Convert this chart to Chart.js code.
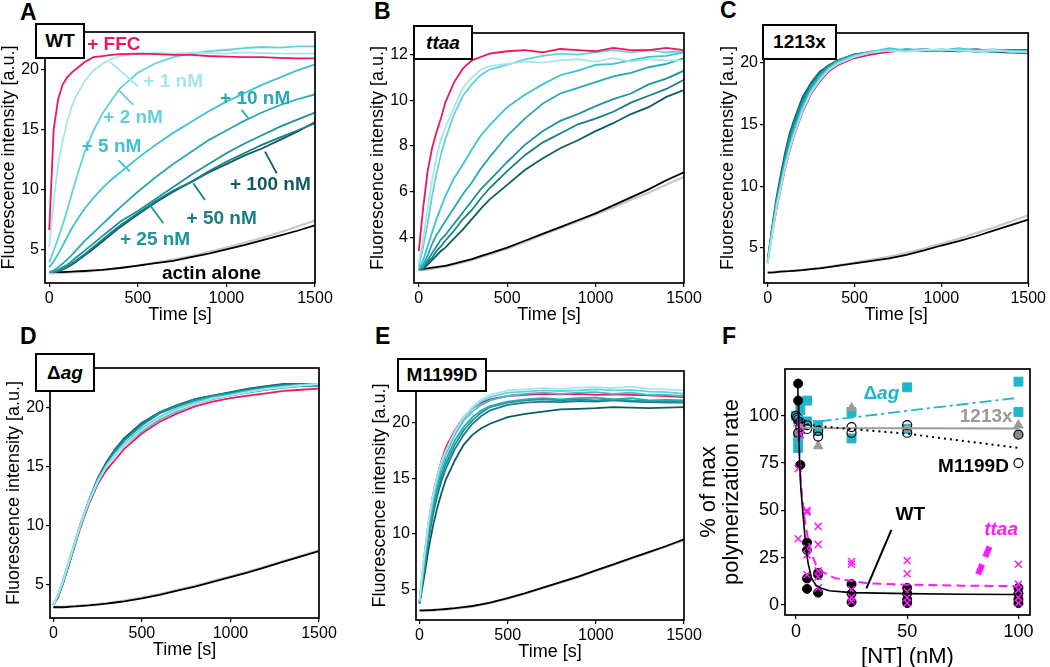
<!DOCTYPE html>
<html><head><meta charset="utf-8">
<script src="https://cdn.jsdelivr.net/npm/chart.js@4.4.1/dist/chart.umd.min.js"></script>
<style>
html,body{margin:0;padding:0;background:#fff;width:1050px;height:667px;overflow:hidden;font-family:"Liberation Sans",Arial,Helvetica,sans-serif;}
canvas{position:absolute;}
.letter{position:absolute;font-weight:bold;font-size:23px;color:#000;line-height:1;}
.box{position:absolute;border:2.5px solid #000;background:#fff;font-weight:bold;font-size:19px;display:flex;align-items:center;justify-content:center;box-sizing:border-box;color:#000;z-index:5;}
</style></head><body>
<div class="letter" style="left:20px;top:1px">A</div>
<div class="letter" style="left:374px;top:0px">B</div>
<div class="letter" style="left:720px;top:-1px">C</div>
<div class="letter" style="left:20px;top:325px">D</div>
<div class="letter" style="left:375px;top:325px">E</div>
<div class="letter" style="left:722px;top:325px">F</div>
<div class="box" style="left:35px;top:23px;width:50px;height:36px">WT</div>
<div class="box" style="left:413px;top:25px;width:60px;height:35px"><i>ttaa</i></div>
<div class="box" style="left:762px;top:24px;width:75px;height:36px">1213x</div>
<div class="box" style="left:35px;top:353px;width:60px;height:39px"><span>Δ</span><i>ag</i></div>
<div class="box" style="left:397px;top:358px;width:90px;height:34px">M1199D</div>
<canvas id="cA"></canvas><canvas id="cB"></canvas><canvas id="cC"></canvas>
<canvas id="cD"></canvas><canvas id="cE"></canvas><canvas id="cF"></canvas>
<script>
// ---------- data ----------
const TIME = [0,25,50,75,100,125,150,200,250,300,350,400,500,600,700,800,900,1000,1100,1200,1300,1400,1500];
const TIME_TICKS = [0,500,1000,1500];
const SERIES = ['+ FFC','+ 1 nM','+ 2 nM','+ 5 nM','+ 10 nM','+ 25 nM','+ 50 nM','+ 100 nM','actin alone','actin alone (rep.)'];

// Panel A (WT)
const A_ffc  = [6.6,15.0,17.5,18.7,19.3,19.7,20.0,20.6,21.0,21.1,21.2,21.25,21.3,21.25,21.2,21.2,21.1,21.05,21.0,21.0,20.95,20.9,20.9];
const A_n1   = [5.2,9.0,12.1,14.0,15.5,16.8,17.7,19.0,19.9,20.45,20.85,21.1,21.3,21.35,21.3,21.4,21.35,21.3,21.4,21.35,21.3,21.3,21.3];
const A_n2   = [3.9,4.9,5.9,7.0,8.2,9.5,10.8,13.1,14.9,16.3,17.4,18.4,19.7,20.5,21.0,21.3,21.5,21.6,21.75,21.85,21.8,21.9,21.9];
const A_n5   = [3.5,4.0,4.6,5.3,6.0,6.7,7.3,8.4,9.3,10.1,10.8,11.4,12.6,13.7,14.7,15.6,16.5,17.3,18.0,18.7,19.3,19.9,20.4];
const A_n10  = [3.1,3.25,3.5,3.8,4.15,4.5,4.9,5.7,6.4,7.1,7.8,8.5,9.8,11.0,12.1,13.1,14.1,14.9,15.7,16.4,17.0,17.5,17.9];
const A_n25  = [3.1,3.15,3.3,3.5,3.7,4.0,4.3,4.9,5.5,6.1,6.7,7.3,8.2,9.2,10.2,11.2,12.1,13.0,13.8,14.5,15.2,15.8,16.4];
const A_n50  = [3.1,3.1,3.2,3.35,3.55,3.8,4.05,4.6,5.2,5.8,6.4,7.0,8.0,9.0,9.9,10.6,11.5,12.3,13.0,13.7,14.3,14.9,15.5];
const A_n100 = [3.1,3.1,3.15,3.3,3.5,3.7,3.95,4.5,5.05,5.65,6.25,6.85,7.9,8.9,9.8,10.6,11.4,12.1,12.8,13.4,14.1,14.8,15.6];
const A_act  = [3.1,3.1,3.1,3.1,3.12,3.14,3.16,3.2,3.25,3.3,3.38,3.45,3.65,3.85,4.05,4.35,4.65,5.0,5.35,5.75,6.15,6.55,7.0];
const A_act2 = [3.0,3.0,3.02,3.04,3.06,3.08,3.1,3.15,3.2,3.28,3.36,3.45,3.65,3.9,4.15,4.45,4.8,5.15,5.55,5.95,6.4,6.9,7.4];

// Panel B (ttaa)
const B_ffc  = [3.4,5.3,6.9,7.9,8.6,9.2,9.9,10.8,11.4,11.75,11.9,12.05,12.15,12.2,12.1,12.25,12.2,12.15,12.3,12.2,12.2,12.3,12.2];
const B_n1   = [2.9,3.9,5.3,6.5,7.5,8.3,8.8,9.7,10.55,11.0,11.35,11.5,11.6,11.7,11.65,11.75,11.8,11.7,11.85,11.7,11.8,11.75,11.75];
const B_n2   = [2.7,3.6,4.6,5.8,6.8,7.6,8.3,9.4,10.2,10.7,11.1,11.35,11.55,11.8,11.95,12.05,12.0,12.1,12.2,12.1,12.2,12.1,12.15];
const B_n5   = [2.6,3.0,3.6,4.2,4.8,5.3,5.8,6.6,7.2,7.85,8.45,8.9,9.7,10.25,10.7,11.1,11.3,11.55,11.6,11.75,11.9,11.95,12.1];
const B_n10  = [2.6,2.8,3.2,3.7,4.1,4.4,4.7,5.3,5.9,6.4,7.0,7.5,8.45,9.2,9.85,10.3,10.55,10.8,11.05,11.2,11.45,11.6,11.85];
const B_n25  = [2.6,2.7,3.0,3.3,3.6,3.9,4.1,4.6,5.1,5.6,6.1,6.5,7.3,8.05,8.65,9.1,9.4,9.75,10.05,10.3,10.7,10.95,11.3];
const B_n50  = [2.6,2.65,2.9,3.1,3.4,3.6,3.85,4.3,4.8,5.2,5.7,6.15,6.9,7.6,8.15,8.55,8.95,9.2,9.5,9.9,10.2,10.5,10.9];
const B_n100 = [2.6,2.6,2.8,3.0,3.2,3.4,3.55,3.95,4.35,4.8,5.25,5.65,6.3,6.95,7.45,7.9,8.25,8.65,9.0,9.4,9.7,10.15,10.45];
const B_act  = [2.6,2.62,2.64,2.67,2.7,2.73,2.75,2.85,2.95,3.05,3.18,3.3,3.55,3.85,4.15,4.45,4.75,5.05,5.4,5.75,6.1,6.5,6.85];
const B_act2 = [2.55,2.57,2.6,2.63,2.66,2.69,2.72,2.8,2.9,3.0,3.12,3.25,3.5,3.8,4.1,4.4,4.7,5.0,5.3,5.65,5.95,6.3,6.65];

// Panel C (1213x)
const C_ffc  = [3.9,6.0,8.1,9.8,11.4,12.8,14.0,16.0,17.5,18.5,19.3,19.8,20.4,20.7,20.9,21.05,21.1,21.0,21.05,21.1,21.0,21.05,21.05];
const C_n1   = [3.7,6.0,8.2,9.9,11.5,12.9,14.1,16.1,17.6,18.6,19.4,19.9,20.5,20.85,21.0,20.9,21.05,21.1,21.0,20.95,21.05,20.9,20.9];
const C_n2   = [3.8,6.1,8.3,10.0,11.6,13.0,14.2,16.2,17.7,18.7,19.5,20.0,20.6,20.9,21.1,21.0,21.1,21.0,21.15,21.0,20.95,21.0,20.9];
const C_n5   = [3.8,6.2,8.4,10.1,11.8,13.2,14.4,16.4,17.8,18.8,19.6,20.1,20.6,20.9,21.2,21.0,21.1,21.0,21.2,21.0,21.1,20.95,21.0];
const C_n10  = [3.9,6.3,8.5,10.3,12.0,13.4,14.6,16.6,18.0,19.0,19.6,20.1,20.6,20.95,21.0,21.1,21.0,21.1,21.0,21.1,20.9,21.0,20.95];
const C_n25  = [3.9,6.4,8.7,10.5,12.2,13.7,14.9,16.8,18.1,19.1,19.7,20.2,20.7,20.9,21.05,21.0,21.1,21.0,21.05,20.9,21.0,20.9,20.8];
const C_n50  = [3.9,6.5,8.8,10.7,12.5,14.0,15.1,17.0,18.3,19.2,19.8,20.2,20.7,20.9,21.0,21.1,21.0,21.05,21.0,21.1,20.95,21.0,20.9];
const C_n100 = [4.0,6.6,9.0,10.9,12.7,14.2,15.3,17.2,18.4,19.3,19.8,20.2,20.7,20.85,21.0,21.05,21.0,21.0,20.95,21.0,20.9,20.85,20.8];
const C_act  = [3.0,3.0,3.05,3.08,3.1,3.12,3.15,3.2,3.28,3.35,3.45,3.55,3.75,3.95,4.15,4.45,4.8,5.2,5.55,5.95,6.4,6.85,7.3];
const C_act2 = [3.05,3.05,3.08,3.1,3.12,3.14,3.17,3.23,3.3,3.38,3.48,3.6,3.82,4.05,4.3,4.6,4.95,5.35,5.75,6.2,6.65,7.15,7.65];

// Panel D (Δag)
const D_ffc  = [3.3,4.0,5.0,6.1,7.3,8.5,9.7,11.8,13.5,14.7,15.6,16.5,17.8,18.8,19.5,20.1,20.5,20.8,21.0,21.2,21.4,21.5,21.6];
const D_n1   = [3.3,4.1,5.1,6.3,7.5,8.7,9.9,12.0,13.7,15.0,16.0,16.8,18.1,19.1,19.8,20.3,20.75,21.0,21.3,21.55,21.7,21.85,22.0];
const D_n2   = [3.3,4.1,5.1,6.3,7.5,8.8,10.0,12.1,13.8,15.1,16.1,16.9,18.2,19.2,19.9,20.4,20.8,21.05,21.35,21.6,21.75,21.9,22.0];
const D_n5   = [3.3,4.1,5.2,6.4,7.6,8.8,10.0,12.1,13.8,15.1,16.1,16.95,18.25,19.2,19.9,20.45,20.85,21.1,21.4,21.6,21.8,21.9,21.95];
const D_n10  = [3.3,4.0,5.0,6.2,7.4,8.6,9.8,11.9,13.6,15.0,16.0,16.8,18.0,19.0,19.7,20.3,20.7,21.0,21.25,21.5,21.65,21.8,21.8];
const D_n25  = [3.3,4.0,5.0,6.2,7.4,8.6,9.9,12.0,13.8,15.2,16.3,17.2,18.5,19.5,20.1,20.6,20.95,21.2,21.45,21.7,21.85,21.9,21.8];
const D_n50  = [3.3,4.0,5.0,6.2,7.4,8.7,10.0,12.1,13.9,15.3,16.4,17.3,18.6,19.6,20.2,20.7,21.0,21.25,21.55,21.75,21.95,22.0,21.85];
const D_n100 = [3.3,3.9,4.9,6.1,7.3,8.6,9.9,12.1,14.0,15.4,16.5,17.4,18.7,19.6,20.2,20.7,21.0,21.3,21.6,21.8,22.0,22.0,21.9];
const D_act  = [3.1,3.1,3.1,3.12,3.15,3.17,3.2,3.25,3.32,3.4,3.5,3.6,3.85,4.15,4.5,4.85,5.25,5.65,6.05,6.5,6.95,7.4,7.85];
const D_act2 = [3.15,3.15,3.15,3.17,3.2,3.22,3.25,3.3,3.38,3.46,3.56,3.67,3.92,4.22,4.57,4.92,5.32,5.72,6.12,6.57,7.02,7.47,7.92];

// Panel E (M1199D)
const E_ffc  = [3.9,7.7,10.9,13.4,15.2,16.6,17.8,19.3,20.5,21.3,21.8,22.1,22.4,22.5,22.6,22.55,22.6,22.5,22.55,22.5,22.45,22.4,22.3];
const E_n1   = [4.0,7.8,11.0,13.4,15.2,16.5,17.5,19.2,20.5,21.4,22.1,22.5,22.9,23.0,23.1,23.05,23.15,23.2,23.1,23.25,23.05,23.0,22.9];
const E_n2   = [3.9,7.6,10.8,13.2,15.0,16.4,17.4,19.1,20.4,21.3,21.9,22.3,22.7,22.8,22.9,22.85,22.9,23.0,22.9,22.95,22.8,22.75,22.6];
const E_n5   = [3.9,7.4,10.5,12.9,14.7,16.1,17.2,18.9,20.2,21.0,21.6,22.0,22.4,22.6,22.7,22.6,22.7,22.75,22.6,22.7,22.5,22.5,22.4];
const E_n10  = [3.8,7.0,10.0,12.4,14.2,15.6,16.7,18.4,19.6,20.5,21.1,21.5,21.9,22.1,22.2,22.1,22.2,22.25,22.1,22.2,22.0,22.05,22.0];
const E_n25  = [3.8,6.8,9.7,12.0,13.8,15.2,16.3,18.0,19.3,20.2,20.9,21.4,21.8,22.0,22.1,22.0,22.1,22.0,22.1,22.0,21.95,21.9,21.85];
const E_n50  = [3.8,6.6,9.4,11.6,13.4,14.8,15.9,17.6,18.9,19.9,20.6,21.1,21.6,21.8,21.9,21.85,21.95,21.9,22.0,21.9,21.85,21.8,21.8];
const E_n100 = [3.7,6.0,8.5,10.6,12.3,13.7,14.9,16.6,18.0,18.9,19.5,19.9,20.5,20.8,21.0,21.2,21.25,21.3,21.4,21.35,21.3,21.35,21.4];
const E_act  = [3.1,3.1,3.12,3.14,3.17,3.2,3.23,3.3,3.4,3.5,3.65,3.8,4.2,4.65,5.15,5.65,6.15,6.7,7.25,7.8,8.35,8.9,9.5];
const E_act2 = [3.05,3.05,3.07,3.09,3.12,3.15,3.18,3.25,3.35,3.45,3.6,3.75,4.15,4.6,5.1,5.6,6.1,6.65,7.2,7.75,8.3,8.85,9.4];

// Panel F (rates vs [NT])
const NT_TICKS = [0,50,100];
const RATE_TICKS = [0,25,50,75,100];
const WT_pts_x   = [1,1,2,5,5,5,5,10,10,10,25,25,25,50,50,50,50,100,100,100,100];
const WT_pts_y   = [117,108,74,33,29,14,8.5,17,16,6.5,11,6,1.5,9,6,3,1,9,6,3,1];
const TTAA_pts_x = [1,1,2,2,5,5,5,5,5,10,10,10,10,10,25,25,25,25,25,50,50,50,50,50,100,100,100,100,100];
const TTAA_pts_y = [72,35,94,90,50,49,30,26.5,16,41.5,32,18,15,9,23,21.5,8,4,2,23.5,16.5,7,4,1,21.5,11,8,4,1];
const DAG_pts_x  = [0,1,1,1,2,2,5,5,10,10,25,25,50,50,100,100];
const DAG_pts_y  = [100,98,88,83,107,103,108,97,95,92,102,88,115,93,118,102];
const X1213_pts_x = [1,2,10,25,50,100];
const X1213_pts_y = [96,92,84,104,93,95];
const M1199_pts_x = [0,0.5,1,2,2,5,5,10,10,25,25,50,50,100];
const M1199_pts_y = [100,99,98,97,94,95,93,92,89,94,91,95,91,75];
const M1199g_pts_x = [1,100];
const M1199g_pts_y = [91,90];
const WT_fit_x   = [0.8,1.0,1.3,1.7,2.2,3.2,4,4.7,5.5,7,9,11.5,15,25,50,75,100];
const WT_fit_y   = [117,110,92,74,62,47.6,37,28.2,22,14.1,10.5,8.8,7.5,6.5,6.0,5.7,5.5];
const TTAA_fit_x = [1.0,1.7,2.4,3.2,4.2,5.4,7,9.1,12,17.2,25,32,50,75,100];
const TTAA_fit_y = [98.8,74,62,52.9,43,35.4,27,21.2,17.5,14.3,12.7,11.5,10.7,10.2,10];
const DAG_fit_x  = [1,5,9,25,50,100];
const DAG_fit_y  = [100.5,98,96.8,99,102.6,109.5];
const X1213_fit_x = [0.5,1,2,3,5,100];
const X1213_fit_y = [100,98,95,93.8,93.5,93.3];
const M1199_fit_x = [0.5,2,5,10,25,50,100];
const M1199_fit_y = [99,97,95.5,94.5,93,90.5,83];

// ---------- styling ----------
const FONT = '"Liberation Sans", Arial, Helvetica, sans-serif';
const COL = {ffc:'#ef175b', n1:'#a6e5eb', n2:'#63d0dc', n5:'#3dc2cf', n10:'#27a8b3', n25:'#1d939c', n50:'#177e86', n100:'#0e5c62', act:'#000000', act2:'#c8c8c8',
  mag:'#ff1aff', cyan:'#1fb6c9', gray:'#9a9a9a'};
Chart.defaults.font.family = FONT;
Chart.defaults.color = '#000';

const pts = (xs, ys) => xs.map((x,i)=>({x, y: ys[i]}));

function lineSet(label, ys, color, w) {
  return {label, data: pts(TIME, ys), borderColor: color, backgroundColor: color, borderWidth: w||1.7,
    pointRadius: 0, tension: 0, showLine: true, fill: false};
}
function traceSets(arr, ffcOnTop) {
  const keys = ['ffc','n1','n2','n5','n10','n25','n50','n100','act','act2'];
  const sets = arr.map((ys,i)=>lineSet(SERIES[i], ys, COL[keys[i]], keys[i]==='act2'?2.2:1.8));
  if (!ffcOnTop) { const f = sets.shift(); sets.splice(7,0,f); }
  return sets;
}

function makePanel(id, P) {
  const yW = P.yW || 47, padTop = 20, padR = P.padR || 22, xH = P.xH || 47;
  const tickSize = P.tickSize || 16, titleSize = P.titleSize || 18;
  const cl = P.L - yW, ct = P.T - padTop;
  const cw = P.R - cl + padR, ch = P.B - ct + xH;
  const cv = document.getElementById(id);
  cv.style.left = cl + 'px'; cv.style.top = ct + 'px';
  cv.style.width = cw + 'px'; cv.style.height = ch + 'px';
  cv.width = cw; cv.height = ch;
  const frame = { id:'frame'+id, afterDatasetsDraw(chart){
    const {ctx, chartArea:a} = chart; const xs = chart.scales.x, ys = chart.scales.y;
    ctx.save();
    (P.segments||[]).forEach(s=>{
      ctx.beginPath(); ctx.strokeStyle = s.color; ctx.lineWidth = s.width||1.8;
      ctx.setLineDash(s.dash||[]); ctx.lineCap = 'butt';
      ctx.moveTo(xs.getPixelForValue(s.x1), ys.getPixelForValue(s.y1));
      ctx.lineTo(xs.getPixelForValue(s.x2), ys.getPixelForValue(s.y2));
      ctx.stroke();
    });
    ctx.setLineDash([]);
    (P.texts||[]).forEach(t=>{
      const parts = t.parts || [{text:t.text, italic:t.italic}];
      const size = t.size || P.annoSize || 19;
      const fonts = parts.map(p=>(p.italic?'italic ':'')+'bold '+size+'px '+FONT);
      const widths = parts.map((p,i)=>{ctx.font = fonts[i]; return ctx.measureText(p.text).width;});
      const total = widths.reduce((a,b)=>a+b,0);
      let x = xs.getPixelForValue(t.x); const y = ys.getPixelForValue(t.y);
      if (t.align==='center') x -= total/2; else if (t.align==='right') x -= total;
      ctx.fillStyle = t.color; ctx.textBaseline = 'middle'; ctx.textAlign = 'left';
      parts.forEach((p,i)=>{ctx.font = fonts[i]; ctx.fillText(p.text, x, y); x += widths[i];});
    });
    ctx.strokeStyle = '#000'; ctx.lineWidth = 1.7;
    ctx.strokeRect(a.left, a.top, a.right-a.left, a.bottom-a.top);
    ctx.restore();
  }};
  const axisCommon = {
    type:'linear',
    grid:{display:true, drawOnChartArea:false, drawTicks:true, tickLength:4, color:'#000', lineWidth:1.2},
    border:{display:false},
  };
  new Chart(cv, {
    type:'scatter',
    data:{datasets:P.datasets},
    options:{
      responsive:false, animation:false, devicePixelRatio: window.devicePixelRatio || 1,
      layout:{padding:{left:0, top:padTop, right:padR, bottom:0}},
      plugins:{legend:{display:false}, tooltip:{enabled:false}},
      scales:{
        x:Object.assign({}, axisCommon, {
          position:'bottom', min:P.xmin, max:P.xmax,
          afterBuildTicks:s=>{s.ticks = P.xticks.map(v=>({value:v}));},
          afterFit:s=>{s.height = xH;},
          ticks:{color:'#000', font:{size:tickSize}, padding:2, maxRotation:0, autoSkip:false, callback:v=>String(v)},
          title:{display:true, text:P.xtitle, color:'#000', font:{size:titleSize}, padding:{top:0, bottom:P.xtPad!=null?P.xtPad:4}}
        }),
        y:Object.assign({}, axisCommon, {
          position:'left', min:P.ymin, max:P.ymax,
          afterBuildTicks:s=>{s.ticks = P.yticks.map(v=>({value:v}));},
          afterFit:s=>{s.width = yW;},
          ticks:{color:'#000', font:{size:tickSize}, padding:2, autoSkip:false, callback:v=>String(v)},
          title:{display:true, text:P.ytitle, color:'#000', font:{size:titleSize, lineHeight:P.ytLH||1.2}, padding:{top:0, bottom:0}}
        })
      }
    },
    plugins:[frame]
  });
}

const YT = 'Fluorescence intensity [a.u.]', XT = 'Time [s]';

makePanel('cA', {L:45, T:32, R:315, B:283, xmin:-24, xmax:1500, ymin:2.2, ymax:23.1,
  xticks:TIME_TICKS, yticks:[5,10,15,20], xtitle:XT, ytitle:YT,
  datasets: traceSets([A_ffc,A_n1,A_n2,A_n5,A_n10,A_n25,A_n50,A_n100,A_act,A_act2], true),
  texts:[
    {text:'+ FFC', x:214, y:22.03, color:COL.ffc},
    {text:'+ 1 nM', x:531, y:18.97, color:COL.n1},
    {text:'+ 2 nM', x:305, y:15.92, color:COL.n2},
    {text:'+ 5 nM', x:183, y:13.56, color:COL.n5},
    {text:'+ 10 nM', x:964, y:17.58, color:COL.n10},
    {text:'+ 25 nM', x:399, y:5.78, color:COL.n25},
    {text:'+ 50 nM', x:775, y:7.58, color:COL.n50},
    {text:'+ 100 nM', x:1020, y:10.36, color:COL.n100},
    {text:'actin alone', x:916, y:3.0, color:'#000', align:'center'}
  ],
  segments:[
    {x1:342, y1:20.64, x2:502, y2:18.56, color:COL.n1},
    {x1:390, y1:18.28, x2:474, y2:17.03, color:COL.n2},
    {x1:390, y1:12.44, x2:455, y2:11.47, color:COL.n5},
    {x1:1086, y1:16.61, x2:1124, y2:15.92, color:COL.n10},
    {x1:568, y1:8.69, x2:644, y2:7.17, color:COL.n25},
    {x1:813, y1:10.5, x2:879, y2:9.11, color:COL.n50},
    {x1:1218, y1:13.14, x2:1284, y2:11.33, color:COL.n100}
  ]});

makePanel('cB', {L:414, T:33, R:684, B:283, xmin:-27, xmax:1500, ymin:2.0, ymax:12.95,
  xticks:TIME_TICKS, yticks:[4,6,8,10,12], xtitle:XT, ytitle:YT,
  datasets: traceSets([B_ffc,B_n1,B_n2,B_n5,B_n10,B_n25,B_n50,B_n100,B_act,B_act2], true)});

makePanel('cC', {L:764, T:33, R:1033, B:283, xmin:-21, xmax:1500, ymin:2.16, ymax:22.43, padR:15,
  xticks:TIME_TICKS, yticks:[5,10,15,20], xtitle:XT, ytitle:YT,
  datasets: traceSets([C_ffc,C_n1,C_n2,C_n5,C_n10,C_n25,C_n50,C_n100,C_act,C_act2], false)});

makePanel('cD', {L:50, T:368, R:319, B:618, xmin:-19, xmax:1500, ymin:2.19, ymax:23.34,
  xticks:TIME_TICKS, yticks:[5,10,15,20], xtitle:XT, ytitle:YT,
  datasets: traceSets([D_ffc,D_n1,D_n2,D_n5,D_n10,D_n25,D_n50,D_n100,D_act,D_act2], false)});

makePanel('cE', {L:416, T:371, R:684, B:620, xmin:-20, xmax:1500, ymin:2.24, ymax:24.65, xH:47,
  xticks:TIME_TICKS, yticks:[5,10,15,20], xtitle:XT, ytitle:YT,
  datasets: traceSets([E_ffc,E_n1,E_n2,E_n5,E_n10,E_n25,E_n50,E_n100,E_act,E_act2], false)});

function fitSet(label, xs, ys, color, w, dash) {
  return {label, data: pts(xs, ys), showLine:true, borderColor:color, backgroundColor:color,
    borderWidth:w, borderDash:dash||[], pointRadius:0, tension:0, fill:false};
}
function ptSet(label, xs, ys, style, r, bg, bc, bw) {
  return {label, data: pts(xs, ys), showLine:false, pointStyle:style, pointRadius:r,
    backgroundColor:bg, borderColor:bc, borderWidth:bw};
}
makePanel('cF', {L:785, T:369, R:1030, B:615, xmin:-4.9, xmax:105.2, ymin:-5.3, ymax:124.7,
  yW:88, xH:55, padR:18, xtPad:0, ytLH:1.05, tickSize:18, titleSize:22,
  xticks:NT_TICKS, yticks:RATE_TICKS, xtitle:'[NT] (nM)', ytitle:['% of max','polymerization rate'],
  datasets:[
    fitSet('WT fit', WT_fit_x, WT_fit_y, '#000', 1.6),
    fitSet('ttaa fit', TTAA_fit_x, TTAA_fit_y, COL.mag, 2, [9,5]),
    fitSet('M1199D fit', M1199_fit_x, M1199_fit_y, '#000', 2, [2,4]),
    fitSet('Δag fit', DAG_fit_x, DAG_fit_y, COL.cyan, 1.8, [12,4,3,4]),
    fitSet('1213x fit', X1213_fit_x, X1213_fit_y, COL.gray, 2),
    ptSet('ttaa', TTAA_pts_x, TTAA_pts_y, 'crossRot', 5, COL.mag, COL.mag, 1.5),
    ptSet('WT', WT_pts_x, WT_pts_y, 'circle', 4.5, '#000', '#000', 1),
    ptSet('M1199D', M1199_pts_x, M1199_pts_y, 'circle', 4.5, 'rgba(255,255,255,0)', '#000', 1.2),
    ptSet('M1199D (grey)', M1199g_pts_x, M1199g_pts_y, 'circle', 4.5, '#8a8a8a', '#000', 1.2),
    ptSet('1213x', X1213_pts_x, X1213_pts_y, 'triangle', 5.5, COL.gray, COL.gray, 1),
    ptSet('Δag', DAG_pts_x, DAG_pts_y, 'rect', 6.3, COL.cyan, COL.cyan, 1)
  ],
  texts:[
    {parts:[{text:'Δ'},{text:'ag', italic:true}], x:38.4, y:111.6, color:COL.cyan, align:'center'},
    {text:'1213x', x:85.5, y:99.3, color:COL.gray, align:'center'},
    {text:'M1199D', x:79.8, y:72.8, color:'#000', align:'center'},
    {text:'WT', x:51.4, y:47.6, color:'#000', align:'center'},
    {text:'ttaa', italic:true, x:92.2, y:39.7, color:COL.mag, align:'center'}
  ],
  segments:[
    {x1:42.9, y1:39.7, x2:31.7, y2:8.8, color:'#000', width:2},
    {x1:87.0, y1:30.8, x2:81.6, y2:15.5, color:COL.mag, width:6, dash:[11,8]}
  ]});
</script>
</body></html>
